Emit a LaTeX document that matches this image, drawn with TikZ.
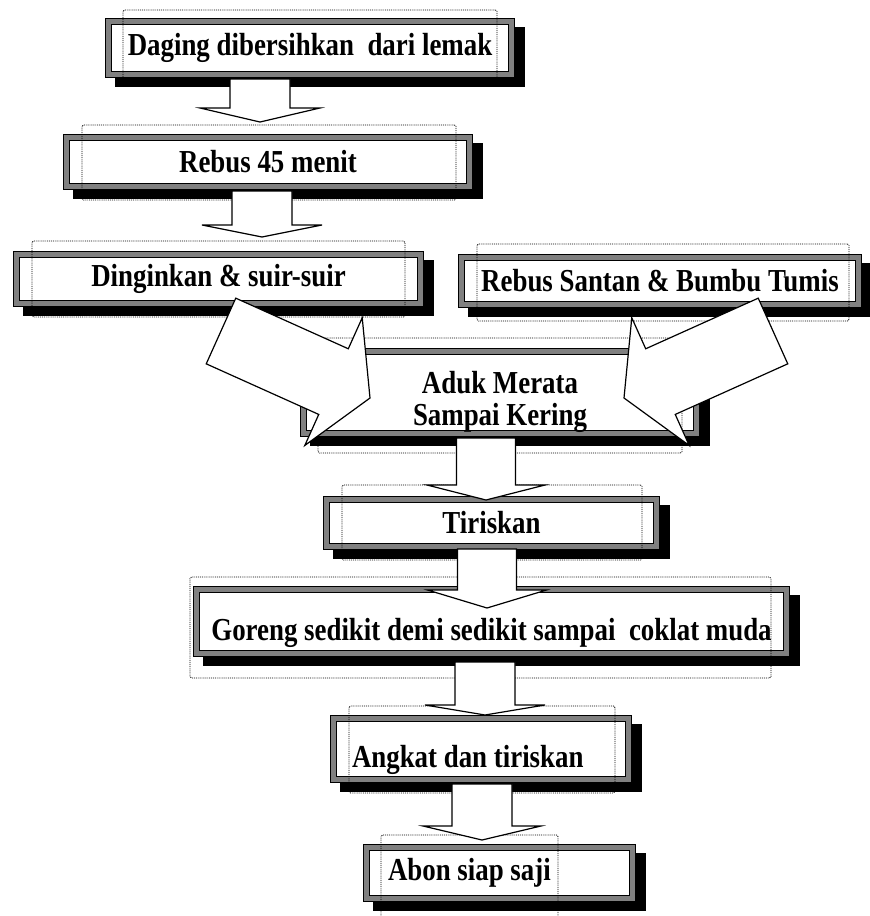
\documentclass[tikz,border=0pt]{standalone}
\usepackage{fontspec}
\setmainfont[FakeStretch=0.84]{Liberation Serif}
\usetikzlibrary{calc}
\definecolor{framegray}{RGB}{128,128,128}

\begin{document}
\begin{tikzpicture}[x=1pt,y=-1pt,
    stepbox/.style={draw=black, line width=1.2pt, double=framegray, double distance=5pt,
      fill=white, inner sep=0pt, align=center,
      font=\fontsize{32pt}{32pt}\selectfont\bfseries,
      preaction={fill=black, draw=black, line width=7.4pt,
        transform canvas={shift={(10pt,-9pt)}}}},
    lowtext/.style={text height=#1, text depth=7pt},
    textframe/.style={densely dotted, line width=0.9pt, rounded corners=1.5pt},
    blk/.style={draw=black, fill=white, line width=1.2pt, line join=miter},
]
\useasboundingbox (0,0) rectangle (870,916);

%------------------------ 方框 ------------------------
\node[stepbox, minimum width=402.6, minimum height=52.6] (daging) at (310,48) {Daging dibersihkan\ \ dari lemak};
\node[stepbox, minimum width=402.6, minimum height=48.6] (rebus) at (268,162) {Rebus 45 menit};
\node[stepbox, minimum width=403.6, minimum height=48.6] (dingin) at (218.5,279) {Dinginkan \& suir-suir};
\node[stepbox, minimum width=396.6, minimum height=46.6] (santan) at (660,281) {Rebus Santan \& Bumbu Tumis};
\node[stepbox, minimum width=392.6, minimum height=81.6, lowtext=72pt] (aduk) at (500,392.5) {Aduk Merata\\Sampai Kering};
\node[stepbox, minimum width=329.6, minimum height=46.6] (tiris) at (491.5,523) {Tiriskan};
\node[stepbox, minimum width=589.6, minimum height=63.6, lowtext=45pt] (goreng) at (491.5,621.5) {Goreng sedikit demi sedikit sampai\ \ coklat muda};
\node[stepbox, minimum width=294.6, minimum height=60.6, lowtext=44pt] (angkat) at (481,749) {\makebox[258pt][l]{Angkat dan tiriskan}};
\node[stepbox, minimum width=265.6, minimum height=50.6] (abon) at (499.5,873) {\makebox[223pt][l]{Abon siap saji}};

% 文本框虚线
\draw[textframe] (123,10) rectangle (497,85);
\draw[textframe] (82,125) rectangle (456,200);
\draw[textframe] (32,241) rectangle (405,317);
\draw[textframe] (477,244) rectangle (849,321);
\draw[textframe] (318,338) rectangle (682,453);
\draw[textframe] (342,485) rectangle (642,560);
\draw[textframe] (190,577) rectangle (771,678);
\draw[textframe] (349,706) rectangle (615,793);
\draw[textframe] (381,835) rectangle (558,920);

%------------------------ 箭头 ------------------------
% #1 起点, #2 箭头尖, #3 杆半宽, #4 头半宽, #5 头长
\def\blkarrow#1#2#3#4#5{%
  \coordinate (hb) at ($(#2)!#5!(#1)$);
  \draw[blk] ($(#1)!#3!90:(#2)$) -- ($(hb)!#3!-90:(#1)$) -- ($(hb)!#4!-90:(#1)$) -- (#2)
    -- ($(hb)!#4!90:(#1)$) -- ($(hb)!#3!90:(#1)$) -- ($(#1)!#3!-90:(#2)$) -- cycle;}

\coordinate (a1s) at (260,79);  \coordinate (a1e) at (260,122);
\coordinate (a2s) at (262,191); \coordinate (a2e) at (262,237);
\coordinate (dls) at (221,331); \coordinate (dle) at (370,398);
\coordinate (drs) at (773,331); \coordinate (dre) at (624,398);
\coordinate (a3s) at (486,438); \coordinate (a3e) at (486,500);
\coordinate (a4s) at (487,549); \coordinate (a4e) at (487,608);
\coordinate (a5s) at (485,662); \coordinate (a5e) at (485,715);
\coordinate (a6s) at (482,784); \coordinate (a6e) at (482,840);

\blkarrow{a1s}{a1e}{30pt}{60pt}{14pt}
\blkarrow{a2s}{a2e}{30pt}{60pt}{12pt}
\blkarrow{dls}{dle}{36pt}{70pt}{40pt}
\blkarrow{drs}{dre}{36pt}{70pt}{40pt}
\blkarrow{a3s}{a3e}{29.5pt}{59pt}{15pt}
\blkarrow{a4s}{a4e}{29.5pt}{59.5pt}{18pt}
\blkarrow{a5s}{a5e}{30pt}{60pt}{10pt}
\blkarrow{a6s}{a6e}{30pt}{59pt}{14pt}

\end{tikzpicture}
\end{document}
